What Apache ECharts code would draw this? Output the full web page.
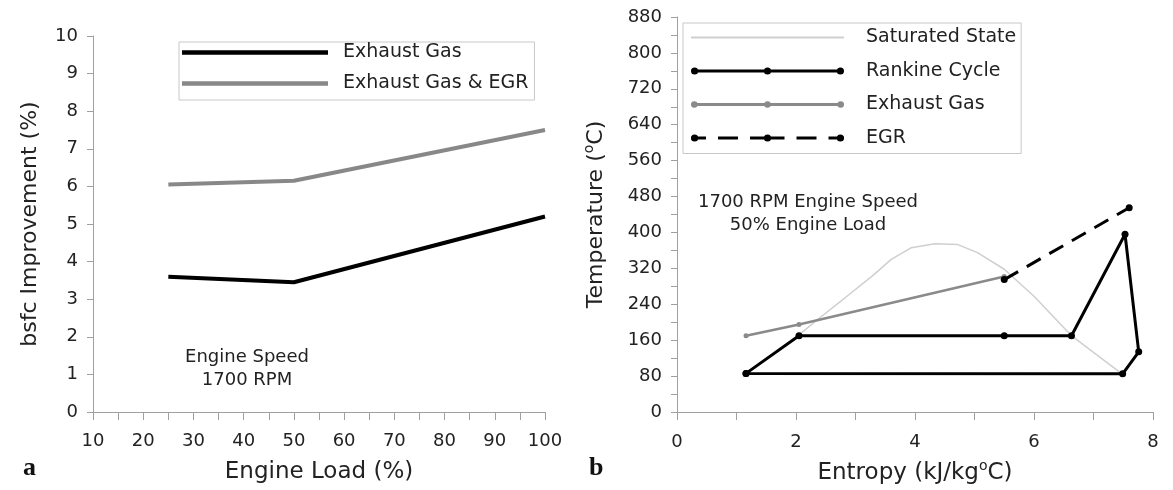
<!DOCTYPE html>
<html><head><meta charset="utf-8">
<script src="https://cdn.jsdelivr.net/npm/echarts@6/dist/echarts.min.js"></script>
<style>html,body{margin:0;padding:0;background:#fff}#c{width:1173px;height:490px}</style>
</head><body><div id="c"></div>
<script>
// ---- Panel a data ----
const engineLoad = [25, 50, 100];
const bsfcExhaust = [3.6, 3.45, 5.2];
const bsfcExhaustEGR = [6.05, 6.15, 7.5];

// ---- Panel b data ----
const satEntropy = [1.16, 2.05, 2.4, 2.83, 3.3, 3.6, 3.94, 4.33, 4.72, 5.05, 5.5, 6.0, 6.63, 7.05, 7.49];
const satTemp    = [84, 172, 210, 255, 305, 340, 366, 375, 373, 355, 318, 258, 170, 128, 84];
const rankineEntropy = [1.16, 2.05, 5.5, 6.63, 7.53, 7.76, 7.49, 1.16];
const rankineTemp    = [86, 170, 170, 170, 396, 134, 85, 86];
const exhaustEntropy = [1.16, 2.05, 5.5];
const exhaustTemp    = [170, 195, 302];
const egrEntropy = [5.5, 7.6];
const egrTemp    = [295, 455];

const zip = (a, b) => a.map((v, i) => [v, b[i]]);
const FONT = 'DejaVu Sans, Liberation Sans, sans-serif';
const AX = '#a0a0a0';
const TXT = '#222';

// ---- legend icon helpers (line sample with markers, Excel style) ----
const circ = (cx, cy, r) => `M${cx - r},${cy} A${r},${r} 0 1,1 ${cx + r},${cy} A${r},${r} 0 1,1 ${cx - r},${cy} Z`;
const bar = (x0, x1, cy, h) => `M${x0},${cy - h / 2} L${x1},${cy - h / 2} L${x1},${cy + h / 2} L${x0},${cy + h / 2} Z`;
const box = (w, h) => `M0,0 L0.01,0 L0,0.01 Z M${w},${h} L${w - 0.01},${h} L${w},${h - 0.01} Z`;
function lineIcon(w, h, lw, r, dashed) {
  const cy = h / 2;
  let p = box(w, h);
  if (dashed) {
    const segs = [[0, 15], [27, 47], [59, w / 2], [w / 2, w / 2 + 17], [w / 2 + 29, w / 2 + 49], [w / 2 + 61, w]];
    segs.forEach(s => { p += ' ' + bar(s[0], s[1], cy, lw); });
  } else {
    p += ' ' + bar(r ? r : 0, r ? w - r : w, cy, lw);
  }
  if (r) {
    [r, w / 2, w - r].forEach(cx => { p += ' ' + circ(cx, cy, r); });
  }
  return 'path://' + p;
}
const supStyle = {fontSize: 14, color: TXT, fontFamily: FONT, padding: [0, 0, 15, 0]};

const chart = echarts.init(document.getElementById('c'), null, {renderer: 'canvas'});
chart.setOption({
  animation: false,
  backgroundColor: '#fff',
  textStyle: {fontFamily: FONT},
  grid: [
    {left: 93, top: 36, width: 452, height: 376},
    {left: 677, top: 17, width: 476, height: 396}
  ],
  xAxis: [
    {gridIndex: 0, type: 'value', min: 10, max: 100, interval: 10,
     name: 'Engine Load (%)', nameLocation: 'middle', nameGap: 49,
     nameTextStyle: {fontSize: 23, color: TXT, fontFamily: FONT},
     axisLine: {lineStyle: {color: AX}}, axisTick: {show: true, length: 8, lineStyle: {color: AX}},
     minorTick: {show: true, splitNumber: 2, length: 8, lineStyle: {color: AX}},
     splitLine: {show: false},
     axisLabel: {fontSize: 18, color: TXT, margin: 20, fontFamily: FONT}},
    {gridIndex: 1, type: 'value', min: 0, max: 8, interval: 2,
     name: '{n|Entropy (kJ/kg}{sup|o}{n|C)}', nameLocation: 'middle', nameGap: 47,
     nameTextStyle: {fontSize: 23, color: TXT, fontFamily: FONT,
       rich: {sup: supStyle, n: {fontSize: 23, color: TXT, fontFamily: FONT}}},
     axisLine: {lineStyle: {color: AX}}, axisTick: {show: true, length: 8, lineStyle: {color: AX}},
     minorTick: {show: true, splitNumber: 2, length: 8, lineStyle: {color: AX}},
     splitLine: {show: false},
     axisLabel: {fontSize: 18, color: TXT, margin: 21, fontFamily: FONT}}
  ],
  yAxis: [
    {gridIndex: 0, type: 'value', min: 0, max: 10, interval: 1,
     name: 'bsfc Improvement (%)', nameLocation: 'middle', nameGap: 52,
     nameTextStyle: {fontSize: 22, color: TXT, fontFamily: FONT},
     axisLine: {show: true, lineStyle: {color: AX}}, axisTick: {show: true, length: 6, lineStyle: {color: AX}},
     splitLine: {show: false},
     axisLabel: {fontSize: 18, color: TXT, margin: 15, fontFamily: FONT}},
    {gridIndex: 1, type: 'value', min: 0, max: 880, interval: 80,
     name: '{n|Temperature (}{sup|o}{n|C)}', nameLocation: 'middle', nameGap: 66,
     nameTextStyle: {fontSize: 22, color: TXT, fontFamily: FONT,
       rich: {sup: supStyle, n: {fontSize: 22, color: TXT, fontFamily: FONT}}},
     axisLine: {show: true, lineStyle: {color: AX}}, axisTick: {show: true, length: 6, lineStyle: {color: AX}},
     minorTick: {show: true, splitNumber: 2, length: 6, lineStyle: {color: AX}},
     splitLine: {show: false},
     axisLabel: {fontSize: 18, color: TXT, margin: 15, fontFamily: FONT}}
  ],
  legend: [
    {left: 179, top: 42, orient: 'vertical', selectedMode: false,
     data: [
       {name: 'Exhaust Gas', icon: lineIcon(146, 14, 4.5, 0, false)},
       {name: 'Exhaust Gas & EGR', icon: lineIcon(146, 14, 4.5, 0, false)}
     ],
     itemWidth: 146, itemHeight: 14, itemGap: 12, itemStyle: {borderWidth: 0},
     borderColor: '#c8c8c8', borderWidth: 1, borderRadius: 0, padding: [1, 6, 7, 3],
     textStyle: {fontSize: 19, color: TXT, fontFamily: FONT, padding: [0, 0, 0, 10]}},
    {left: 683, top: 23, orient: 'vertical', selectedMode: false,
     data: [
       {name: 'Saturated State', icon: lineIcon(153, 14, 2, 0, false)},
       {name: 'Rankine Cycle', icon: lineIcon(153, 14, 3, 3.6, false)},
       {name: 'b:Exhaust Gas', icon: lineIcon(153, 14, 3, 3.3, false)},
       {name: 'EGR', icon: lineIcon(153, 14, 3, 3.6, true)}
     ],
     formatter: n => n.replace(/^b:/, ''),
     itemWidth: 153, itemHeight: 14, itemGap: 14.5, itemStyle: {borderWidth: 0},
     borderColor: '#c8c8c8', borderWidth: 1, borderRadius: 0, padding: [5, 5, 6, 8],
     textStyle: {fontSize: 19, color: TXT, fontFamily: FONT, padding: [0, 0, 0, 17]}}
  ],
  graphic: [
    {type: 'text', position: [247, 346], style: {text: 'Engine Speed\n1700 RPM', fill: TXT,
      font: '18px ' + FONT, textAlign: 'center', lineHeight: 23}},
    {type: 'text', position: [808, 191], style: {text: '1700 RPM Engine Speed\n50% Engine Load', fill: TXT,
      font: '18px ' + FONT, textAlign: 'center', lineHeight: 23}},
    {type: 'text', position: [23, 455], style: {text: 'a', fill: '#111',
      font: 'bold 26px Liberation Serif, serif'}},
    {type: 'text', position: [589, 455], style: {text: 'b', fill: '#111',
      font: 'bold 26px Liberation Serif, serif'}}
  ],
  series: [
    {name: 'Exhaust Gas', type: 'line', xAxisIndex: 0, yAxisIndex: 0,
     data: zip(engineLoad, bsfcExhaust), symbol: 'none', color: '#000',
     lineStyle: {color: '#000', width: 4}},
    {name: 'Exhaust Gas & EGR', type: 'line', xAxisIndex: 0, yAxisIndex: 0,
     data: zip(engineLoad, bsfcExhaustEGR), symbol: 'none', color: '#888',
     lineStyle: {color: '#888', width: 4}},
    {name: 'Saturated State', type: 'line', xAxisIndex: 1, yAxisIndex: 1,
     data: zip(satEntropy, satTemp), symbol: 'none', color: '#cfcfcf',
     lineStyle: {color: '#cfcfcf', width: 1.5}, z: 1},
    {name: 'Rankine Cycle', type: 'line', xAxisIndex: 1, yAxisIndex: 1,
     data: zip(rankineEntropy, rankineTemp), symbol: 'circle', symbolSize: 7, showAllSymbol: true,
     color: '#000', itemStyle: {color: '#000'}, lineStyle: {color: '#000', width: 3}, z: 3},
    {name: 'b:Exhaust Gas', type: 'line', xAxisIndex: 1, yAxisIndex: 1,
     data: zip(exhaustEntropy, exhaustTemp), symbol: 'circle', symbolSize: 5,
     color: '#8a8a8a', itemStyle: {color: '#8a8a8a'}, lineStyle: {color: '#8a8a8a', width: 2.5}, z: 2},
    {name: 'EGR', type: 'line', xAxisIndex: 1, yAxisIndex: 1,
     data: zip(egrEntropy, egrTemp), symbol: 'circle', symbolSize: 7,
     color: '#000', itemStyle: {color: '#000'}, lineStyle: {color: '#000', width: 3, type: [16, 10]}, z: 4}
  ]
});
</script></body></html>
